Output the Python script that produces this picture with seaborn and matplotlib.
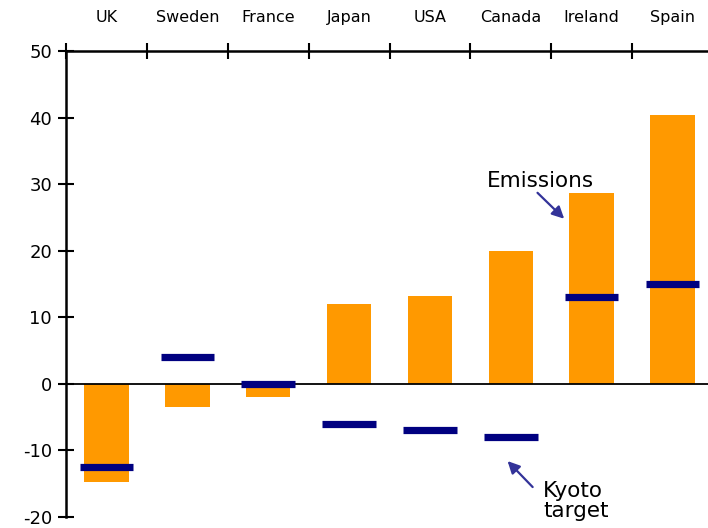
import matplotlib
matplotlib.use("Agg")
import matplotlib.pyplot as plt
from matplotlib.ticker import FixedLocator
import seaborn as sns
import pandas as pd
import numpy as np

countries = ["UK", "Sweden", "France", "Japan", "USA", "Canada", "Ireland", "Spain"]
emissions = [-14.7, -3.5, -1.9, 12.0, 13.2, 20.0, 28.6, 40.4]
kyoto_target = [-12.5, 4.0, 0.0, -6.0, -7.0, -8.0, 13.0, 15.0]
y_ticks = [-20, -10, 0, 10, 20, 30, 40, 50]

ORANGE = "#FF9900"
NAVY = "#000080"
ARROW = "#333399"

sns.set_theme(style="white")
plt.rcParams["font.family"] = ["DejaVu Sans"]

df = pd.DataFrame({"country": countries, "emissions": emissions, "kyoto": kyoto_target})

fig = plt.figure(figsize=(7.08, 5.28), dpi=100)
ax = fig.add_axes([66 / 708, 11 / 528, 647 / 708, 466 / 528])

sns.barplot(data=df, x="country", y="emissions", color=ORANGE, width=0.55,
            saturation=1, linewidth=0, ax=ax, zorder=2)

# Kyoto targets as short thick dashes across each category
xpos = np.arange(len(countries))
ax.hlines(df["kyoto"], xpos - 0.33, xpos + 0.33, colors=NAVY, linewidth=5.2,
          zorder=4, capstyle="butt")

# zero reference line
ax.axhline(0, color="black", linewidth=1.3, zorder=3)

ax.set_xlim(-0.5, len(countries) - 0.5)
ax.set_ylim(-20, 50)
ax.set_xlabel("")
ax.set_ylabel("")

# y axis
ax.yaxis.set_major_locator(FixedLocator(y_ticks))
ax.set_yticklabels([str(v) for v in y_ticks])
ax.tick_params(axis="y", which="major", direction="inout", length=12, width=1.5,
               color="black", labelsize=13, pad=4, left=True, labelcolor="black")

# x axis on top: tick marks between categories, labels at centres
ax.xaxis.tick_top()
ax.xaxis.set_major_locator(FixedLocator(np.arange(-0.5, len(countries), 1.0)))
ax.xaxis.set_minor_locator(FixedLocator(xpos))
ax.xaxis.set_major_formatter(plt.NullFormatter())
ax.set_xticklabels(countries, minor=True)
ax.tick_params(axis="x", which="major", direction="inout", length=12, width=1.5,
               color="black", top=True, bottom=False)
ax.tick_params(axis="x", which="minor", length=0, top=True, bottom=False,
               labeltop=True, labelbottom=False, labelsize=11.5, pad=19,
               labelcolor="black")

for side in ["right", "bottom"]:
    ax.spines[side].set_visible(False)
for side in ["left", "top"]:
    ax.spines[side].set_visible(True)
    ax.spines[side].set_color("black")
    ax.spines[side].set_linewidth(1.8)
ax.grid(False)

arrow_kw = dict(arrowstyle="-|>", color=ARROW, lw=1.6, mutation_scale=18,
                shrinkA=0, shrinkB=0)
ax.annotate("", xy=(5.66, 24.8), xytext=(5.33, 28.7), arrowprops=arrow_kw)
ax.text(5.37, 30.5, "Emissions", fontsize=15.5, ha="center", va="center", color="black")

ax.annotate("", xy=(4.96, -11.6), xytext=(5.27, -15.5), arrowprops=arrow_kw)
ax.text(5.40, -17.6, "Kyoto\ntarget", fontsize=15.5, ha="left", va="center",
        color="black", linespacing=1.05)

fig.savefig("out.png", dpi=100)
